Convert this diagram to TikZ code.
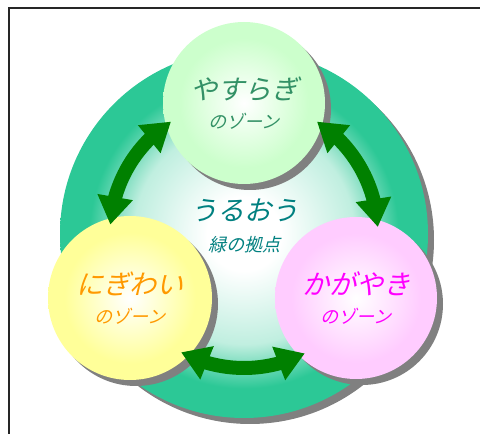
\documentclass[tikz,border=0pt]{standalone}
\usepackage{fontspec}
\newfontfamily\jpfont[FakeSlant=0.25]{Noto Sans CJK JP}
\usetikzlibrary{arrows.meta,bending,shadows}
\definecolor{ringgreen}{RGB}{44,200,150}
\definecolor{yasuc}{RGB}{204,255,204}
\definecolor{nigic}{RGB}{255,255,153}
\definecolor{kagac}{RGB}{255,204,255}
\definecolor{yasutext}{RGB}{51,145,102}
\definecolor{hubtext}{RGB}{0,128,128}
\definecolor{nigitext}{RGB}{255,153,0}
\definecolor{kagatext}{RGB}{255,0,255}
\definecolor{arrowgreen}{RGB}{0,128,0}
\definecolor{shadowgray}{RGB}{128,128,128}
\pgfdeclareradialshading{ringshade}{\pgfpoint{0bp}{0bp}}{color(0bp)=(white); color(5bp)=(white); color(15bp)=(white!70!ringgreen); color(21bp)=(ringgreen); color(25bp)=(ringgreen); color(50bp)=(ringgreen)}
\pgfdeclareradialshading{yasushade}{\pgfpoint{0bp}{0bp}}{color(0bp)=(white); color(20bp)=(yasuc); color(25bp)=(yasuc); color(50bp)=(yasuc)}
\pgfdeclareradialshading{nigishade}{\pgfpoint{0bp}{0bp}}{color(0bp)=(white); color(20bp)=(nigic); color(25bp)=(nigic); color(50bp)=(nigic)}
\pgfdeclareradialshading{kagashade}{\pgfpoint{0bp}{0bp}}{color(0bp)=(white); color(20bp)=(kagac); color(25bp)=(kagac); color(50bp)=(kagac)}
\newcommand{\zonename}[2]{{\fontsize{27}{27}\selectfont #1}\\{\fontsize{18}{18}\selectfont #2}}
\begin{document}
\begin{tikzpicture}[
        x=1pt, y=1pt,
        zone/.style={circle, inner sep=0pt, outer sep=0pt, align=center,
            font=\jpfont\fontsize{18}{29}\selectfont,
            drop shadow={shadow xshift=6pt, shadow yshift=-6pt, fill=shadowgray, opacity=1}},
        twoway/.style={line width=14pt, draw=arrowgreen,
            {Triangle[width=34pt,length=28pt]}-{Triangle[width=34pt,length=28pt]}},
        ]
        \useasboundingbox (0,0) rectangle (480,434);
        \draw[line width=2pt, black!85] (9,0) -- (9,426) -- (480,426);
        \node[zone, minimum size=368pt, shading=ringshade] (ring) at (244,200) {};
        \node[circle, minimum size=268pt, inner sep=0pt, outer sep=0pt] (track) at (ring.center) {};
        \node[align=center, text=hubtext, font=\jpfont\fontsize{18}{31}\selectfont] (hub) at (244,208) {\zonename{うるおう}{緑の拠点}};
        \node[zone, minimum size=162pt, shading=yasushade, text=yasutext] (yasu) at (244,331) {\zonename{やすらぎ}{のゾーン}};
        \node[zone, minimum size=164pt, shading=nigishade, text=nigitext] (nigi) at (130,136) {\zonename{にぎわい}{のゾーン}};
        \node[zone, minimum size=162pt, shading=kagashade, text=kagatext] (kaga) at (356,136) {\zonename{かがやき}{のゾーン}};
        \draw[twoway] (track.176) arc[start angle=176, end angle=123, radius=134pt];
        \draw[twoway] (track.57) arc[start angle=57, end angle=3, radius=134pt];
        \draw[twoway] (track.242) arc[start angle=242, end angle=297, radius=134pt];
\end{tikzpicture}
\end{document}
